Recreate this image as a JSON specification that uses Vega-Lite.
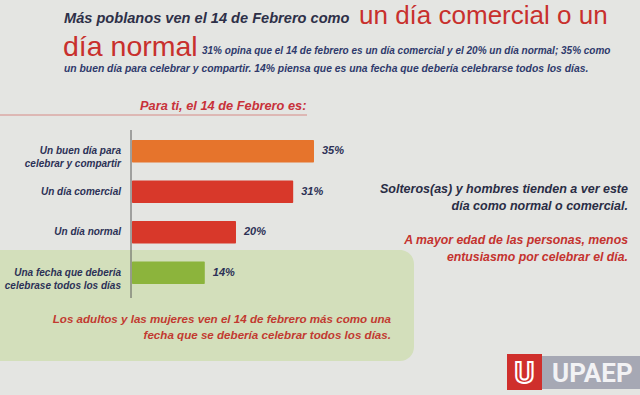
{
  "$schema": "https://vega.github.io/schema/vega-lite/v6.json",
  "width": 640,
  "height": 395,
  "autosize": "none",
  "padding": 0,
  "background": "#e4e5e2",
  "config": {"view": {"stroke": null}, "font": "Liberation Sans"},
  "layer": [
    {
      "data": {"values": [{}]},
      "layer": [
        {
          "mark": {"type": "rect", "fill": "#d3dfbb", "cornerRadius": 14},
          "encoding": {
            "x": {"datum": -20, "type": "quantitative", "scale": {"domain": [0, 640], "nice": false, "zero": false}, "axis": null},
            "x2": {"datum": 414},
            "y": {"datum": 250, "type": "quantitative", "scale": {"domain": [0, 395], "reverse": true, "nice": false, "zero": false}, "axis": null},
            "y2": {"datum": 361}
          }
        },
        {
          "mark": {"type": "rule", "color": "#d68a86", "strokeWidth": 1},
          "encoding": {
            "x": {"datum": 0, "type": "quantitative", "scale": {"domain": [0, 640], "nice": false, "zero": false}, "axis": null},
            "x2": {"datum": 307},
            "y": {"datum": 115, "type": "quantitative", "scale": {"domain": [0, 395], "reverse": true, "nice": false, "zero": false}, "axis": null}
          }
        },
        {
          "mark": {"type": "rule", "color": "#5a5a5a", "strokeWidth": 1},
          "encoding": {
            "x": {"datum": 131, "type": "quantitative", "scale": {"domain": [0, 640], "nice": false, "zero": false}, "axis": null},
            "y": {"datum": 130, "type": "quantitative", "scale": {"domain": [0, 395], "reverse": true, "nice": false, "zero": false}, "axis": null},
            "y2": {"datum": 298}
          }
        },
        {
          "mark": {"type": "text", "text": "Más poblanos ven  el 14 de Febrero como", "align": "left", "baseline": "alphabetic", "fontSize": 14.6, "fontStyle": "italic", "fontWeight": "bold", "color": "#2e3048"},
          "encoding": {
            "x": {"datum": 64, "type": "quantitative", "scale": {"domain": [0, 640], "nice": false, "zero": false}, "axis": null},
            "y": {"datum": 23, "type": "quantitative", "scale": {"domain": [0, 395], "reverse": true, "nice": false, "zero": false}, "axis": null}
          }
        },
        {
          "mark": {"type": "text", "text": "un día comercial o un", "align": "left", "baseline": "alphabetic", "fontSize": 26, "color": "#c8302d"},
          "encoding": {
            "x": {"datum": 359, "type": "quantitative", "scale": {"domain": [0, 640], "nice": false, "zero": false}, "axis": null},
            "y": {"datum": 24, "type": "quantitative", "scale": {"domain": [0, 395], "reverse": true, "nice": false, "zero": false}, "axis": null}
          }
        },
        {
          "mark": {"type": "text", "text": "día normal", "align": "left", "baseline": "alphabetic", "fontSize": 28.5, "color": "#c8302d"},
          "encoding": {
            "x": {"datum": 63, "type": "quantitative", "scale": {"domain": [0, 640], "nice": false, "zero": false}, "axis": null},
            "y": {"datum": 56, "type": "quantitative", "scale": {"domain": [0, 395], "reverse": true, "nice": false, "zero": false}, "axis": null}
          }
        },
        {
          "mark": {"type": "text", "text": "31% opina que el 14 de febrero es un día comercial y el 20% un día normal; 35% como", "align": "left", "baseline": "alphabetic", "fontSize": 10, "fontStyle": "italic", "fontWeight": "bold", "color": "#2f3a6c"},
          "encoding": {
            "x": {"datum": 202, "type": "quantitative", "scale": {"domain": [0, 640], "nice": false, "zero": false}, "axis": null},
            "y": {"datum": 54, "type": "quantitative", "scale": {"domain": [0, 395], "reverse": true, "nice": false, "zero": false}, "axis": null}
          }
        },
        {
          "mark": {"type": "text", "text": "un buen día para celebrar y compartir. 14% piensa que es una fecha que debería celebrarse todos los días.", "align": "left", "baseline": "alphabetic", "fontSize": 10.35, "fontStyle": "italic", "fontWeight": "bold", "color": "#2f3a6c"},
          "encoding": {
            "x": {"datum": 64, "type": "quantitative", "scale": {"domain": [0, 640], "nice": false, "zero": false}, "axis": null},
            "y": {"datum": 72, "type": "quantitative", "scale": {"domain": [0, 395], "reverse": true, "nice": false, "zero": false}, "axis": null}
          }
        },
        {
          "mark": {"type": "text", "text": "Para ti, el 14 de Febrero es:", "align": "left", "baseline": "alphabetic", "fontSize": 12.8, "fontStyle": "italic", "fontWeight": "bold", "color": "#c8323a"},
          "encoding": {
            "x": {"datum": 140, "type": "quantitative", "scale": {"domain": [0, 640], "nice": false, "zero": false}, "axis": null},
            "y": {"datum": 110, "type": "quantitative", "scale": {"domain": [0, 395], "reverse": true, "nice": false, "zero": false}, "axis": null}
          }
        },
        {
          "mark": {"type": "text", "text": "Solteros(as)  y hombres tienden a ver este\ndía como normal o comercial.", "lineBreak": "\n", "lineHeight": 17, "align": "right", "baseline": "alphabetic", "fontSize": 12.5, "fontStyle": "italic", "fontWeight": "bold", "color": "#2a2d45"},
          "encoding": {
            "x": {"datum": 628, "type": "quantitative", "scale": {"domain": [0, 640], "nice": false, "zero": false}, "axis": null},
            "y": {"datum": 193, "type": "quantitative", "scale": {"domain": [0, 395], "reverse": true, "nice": false, "zero": false}, "axis": null}
          }
        },
        {
          "mark": {"type": "text", "text": "A mayor edad de las personas, menos\nentusiasmo por celebrar el día.", "lineBreak": "\n", "lineHeight": 17, "align": "right", "baseline": "alphabetic", "fontSize": 12.3, "fontStyle": "italic", "fontWeight": "bold", "color": "#c4332f"},
          "encoding": {
            "x": {"datum": 628, "type": "quantitative", "scale": {"domain": [0, 640], "nice": false, "zero": false}, "axis": null},
            "y": {"datum": 244, "type": "quantitative", "scale": {"domain": [0, 395], "reverse": true, "nice": false, "zero": false}, "axis": null}
          }
        },
        {
          "mark": {"type": "text", "text": "Los adultos y las mujeres ven el 14 de febrero más como una\nfecha que se debería celebrar todos los días.", "lineBreak": "\n", "lineHeight": 16, "align": "right", "baseline": "alphabetic", "fontSize": 11.6, "fontStyle": "italic", "fontWeight": "bold", "color": "#c23a30"},
          "encoding": {
            "x": {"datum": 391, "type": "quantitative", "scale": {"domain": [0, 640], "nice": false, "zero": false}, "axis": null},
            "y": {"datum": 323, "type": "quantitative", "scale": {"domain": [0, 395], "reverse": true, "nice": false, "zero": false}, "axis": null}
          }
        },
        {
          "mark": {"type": "rect", "fill": "#a6a8b4"},
          "encoding": {
            "x": {"datum": 542, "type": "quantitative", "scale": {"domain": [0, 640], "nice": false, "zero": false}, "axis": null},
            "x2": {"datum": 645},
            "y": {"datum": 356, "type": "quantitative", "scale": {"domain": [0, 395], "reverse": true, "nice": false, "zero": false}, "axis": null},
            "y2": {"datum": 389}
          }
        },
        {
          "mark": {"type": "rect", "fill": "#cf2f2c"},
          "encoding": {
            "x": {"datum": 507, "type": "quantitative", "scale": {"domain": [0, 640], "nice": false, "zero": false}, "axis": null},
            "x2": {"datum": 542},
            "y": {"datum": 354, "type": "quantitative", "scale": {"domain": [0, 395], "reverse": true, "nice": false, "zero": false}, "axis": null},
            "y2": {"datum": 390}
          }
        },
        {
          "mark": {"type": "text", "text": "U", "align": "center", "baseline": "alphabetic", "fontSize": 30, "fontWeight": "bold", "font": "Roboto", "fill": "#cf2f2c", "stroke": "#ffffff", "strokeWidth": 2},
          "encoding": {
            "x": {"datum": 524.5, "type": "quantitative", "scale": {"domain": [0, 640], "nice": false, "zero": false}, "axis": null},
            "y": {"datum": 383, "type": "quantitative", "scale": {"domain": [0, 395], "reverse": true, "nice": false, "zero": false}, "axis": null}
          }
        },
        {
          "mark": {"type": "text", "text": "UPAEP", "align": "left", "baseline": "alphabetic", "fontSize": 26, "fontWeight": "bold", "font": "Roboto", "color": "#f2f2f4"},
          "encoding": {
            "x": {"datum": 552, "type": "quantitative", "scale": {"domain": [0, 640], "nice": false, "zero": false}, "axis": null},
            "y": {"datum": 382, "type": "quantitative", "scale": {"domain": [0, 395], "reverse": true, "nice": false, "zero": false}, "axis": null}
          }
        }
      ]
    },
    {
      "data": {
        "values": [
          {"respuesta": "Un buen día para\ncelebrar y compartir", "porcentaje": 0.35},
          {"respuesta": "Un día comercial", "porcentaje": 0.31},
          {"respuesta": "Un día normal", "porcentaje": 0.20},
          {"respuesta": "Una fecha que debería\ncelebrase todos los días", "porcentaje": 0.14}
        ]
      },
      "encoding": {
        "y": {
          "field": "respuesta",
          "type": "nominal",
          "sort": null,
          "scale": {"range": [131, 293], "paddingInner": 0.45, "paddingOuter": 0.225},
          "axis": null
        }
      },
      "layer": [
        {
          "mark": {"type": "bar", "cornerRadius": 1},
          "encoding": {
            "x": {"field": "porcentaje", "type": "quantitative", "scale": {"domain": [-0.2538, 0.9769], "nice": false, "zero": false}, "axis": null},
            "x2": {"datum": 0},
            "color": {
              "field": "respuesta",
              "type": "nominal",
              "sort": null,
              "scale": {"range": ["#e6742c", "#d8382a", "#d8382a", "#8cb43c"]},
              "legend": null
            }
          }
        },
        {
          "mark": {"type": "text", "align": "left", "baseline": "middle", "dx": 8, "fontSize": 11, "fontStyle": "italic", "fontWeight": "bold", "color": "#2c3156"},
          "encoding": {
            "x": {"field": "porcentaje", "type": "quantitative", "scale": {"domain": [-0.2538, 0.9769], "nice": false, "zero": false}, "axis": null},
            "text": {"field": "porcentaje", "type": "quantitative", "format": ".0%"}
          }
        },
        {
          "mark": {"type": "text", "align": "right", "baseline": "middle", "dx": -11, "lineBreak": "\n", "lineHeight": 13, "fontSize": 10, "fontStyle": "italic", "fontWeight": "bold", "color": "#2c3156"},
          "encoding": {
            "x": {"datum": 0, "type": "quantitative", "scale": {"domain": [-0.2538, 0.9769], "nice": false, "zero": false}, "axis": null},
            "text": {"field": "respuesta", "type": "nominal"}
          }
        }
      ]
    }
  ],
  "resolve": {"scale": {"x": "independent", "y": "independent"}}
}
